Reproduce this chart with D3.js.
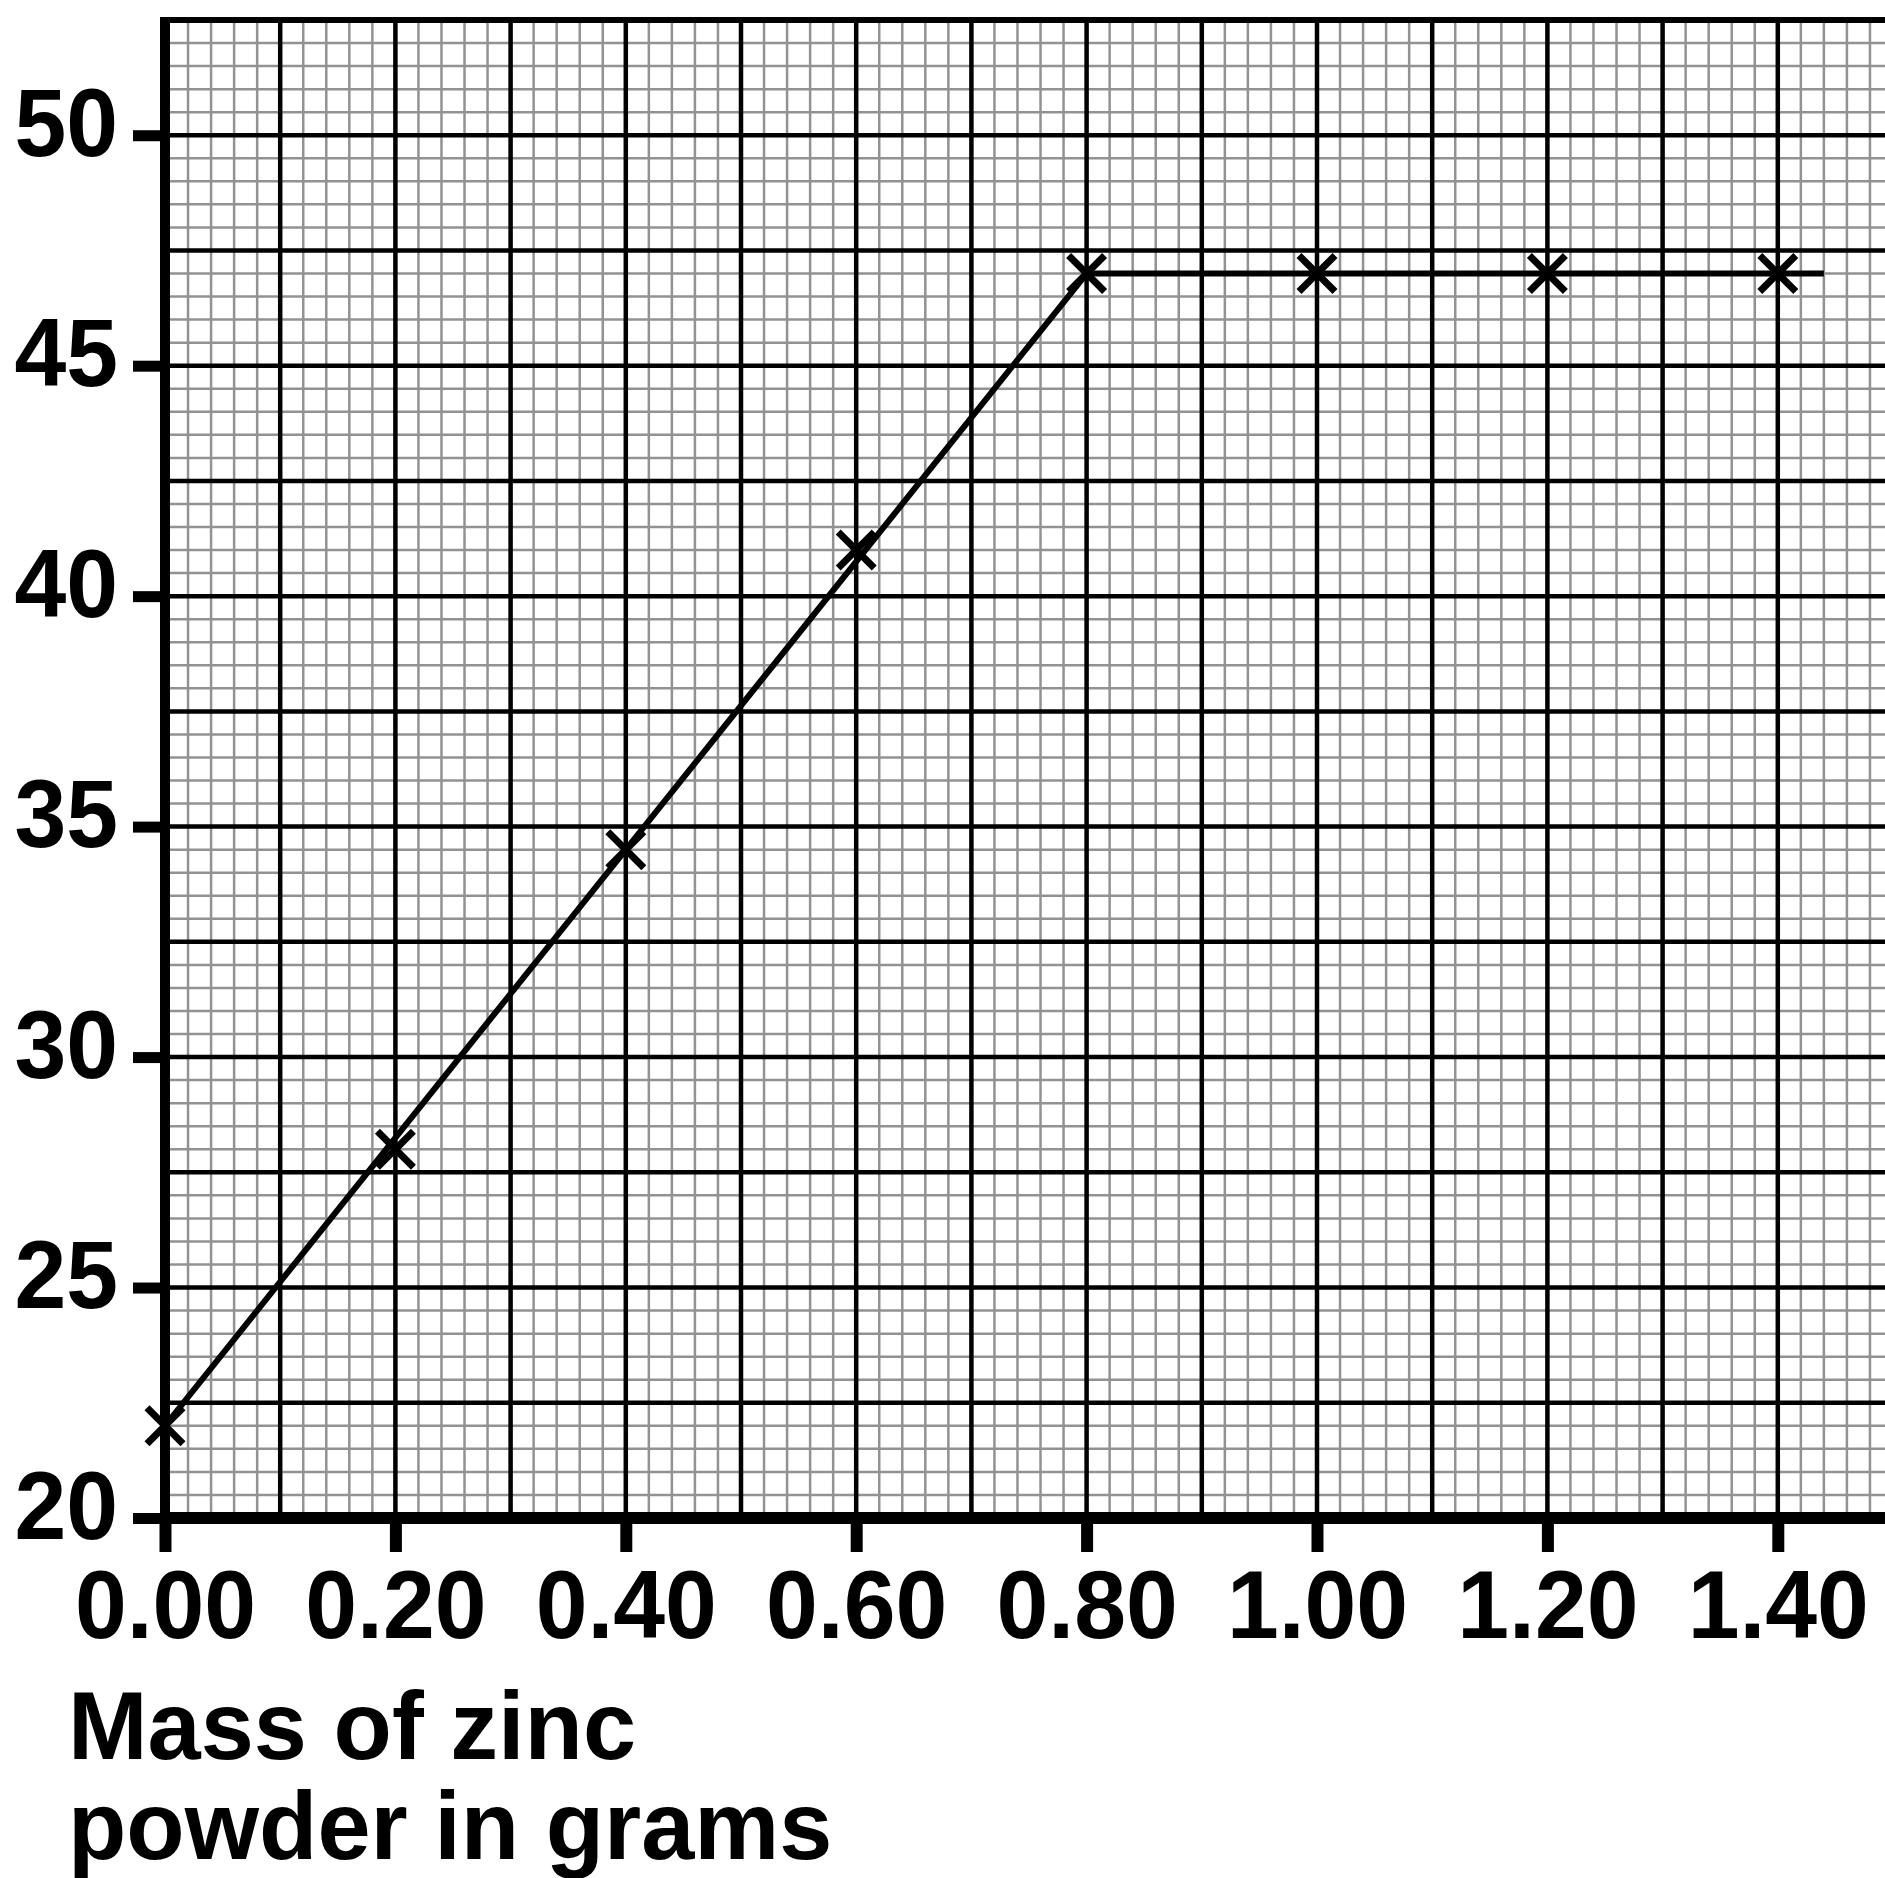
<!DOCTYPE html>
<html>
<head>
<meta charset="utf-8">
<script src="https://cdn.jsdelivr.net/npm/d3@7"></script>
<style>
  html, body { margin: 0; padding: 0; background: #fff; }
  svg { display: block; }
</style>
</head>
<body>
<svg id="chart" width="1885" height="1878"></svg>
<script>
// ---- data ----
const massValues = [0.0, 0.2, 0.4, 0.6, 0.8, 1.0, 1.2, 1.4];
const readingValues = [22, 28, 34.5, 41, 47, 47, 47, 47];
// best-fit lines drawn through the points
const fitRiseX = [0.0, 0.8];
const fitRiseY = [22, 47];
const fitFlatX = [0.8, 1.44];
const fitFlatY = [47, 47];
const xTickValues = [0.0, 0.2, 0.4, 0.6, 0.8, 1.0, 1.2, 1.4];
const xTickLabels = ["0.00", "0.20", "0.40", "0.60", "0.80", "1.00", "1.20", "1.40"];
const yTickValues = [20, 25, 30, 35, 40, 45, 50];
const yTickLabels = ["20", "25", "30", "35", "40", "45", "50"];
const xTitleLines = ["Mass of zinc", "powder in grams"];

// ---- layout ----
const svg = d3.select("#chart");
const x = d3.scaleLinear().domain([0, 1.5]).range([165, 1893]);
const y = d3.scaleLinear().domain([20, 52.5]).range([1518, 20]);
const FONT = "'Liberation Sans', Arial, Helvetica, sans-serif";
const FS = 97;
const SX = 0.96;

// grid
const minorX = d3.range(0, 75 + 1).map(i => i * 0.02);
const minorY = d3.range(0, 65 + 1).map(i => 20 + i * 0.5);
const majorX = d3.range(0, 15 + 1).map(i => i * 0.1);
const majorY = d3.range(0, 13 + 1).map(i => 20 + i * 2.5);

const grid = svg.append("g");
grid.selectAll("line.mx").data(minorX).join("line")
  .attr("x1", d => x(d)).attr("x2", d => x(d))
  .attr("y1", y(52.5)).attr("y2", y(20))
  .attr("stroke", "#929292").attr("stroke-width", 2.5);
grid.selectAll("line.my").data(minorY).join("line")
  .attr("x1", x(0)).attr("x2", 1885)
  .attr("y1", d => y(d)).attr("y2", d => y(d))
  .attr("stroke", "#929292").attr("stroke-width", 2.5);
grid.selectAll("line.Mx").data(majorX).join("line")
  .attr("x1", d => x(d)).attr("x2", d => x(d))
  .attr("y1", y(52.5)).attr("y2", y(20))
  .attr("stroke", "#000").attr("stroke-width", 4.5);
grid.selectAll("line.My").data(majorY).join("line")
  .attr("x1", x(0)).attr("x2", 1885)
  .attr("y1", d => y(d)).attr("y2", d => y(d))
  .attr("stroke", "#000").attr("stroke-width", 4.5);
// top border
grid.append("line")
  .attr("x1", x(0) - 4).attr("x2", 1885)
  .attr("y1", y(52.5)).attr("y2", y(52.5))
  .attr("stroke", "#000").attr("stroke-width", 6);

// axes
const xAxis = d3.axisBottom(x).tickValues(xTickValues)
  .tickFormat((d, i) => xTickLabels[i]).tickSize(34).tickSizeOuter(0);
const gx = svg.append("g").attr("transform", `translate(0,${y(20)})`).call(xAxis);
gx.select(".domain").attr("d", `M${x(0) - 5},0H1885`).attr("stroke", "#000").attr("stroke-width", 12);
gx.selectAll(".tick line").attr("stroke", "#000").attr("stroke-width", 12);
gx.selectAll(".tick text")
  .attr("y", 120).attr("dy", null)
  .attr("transform", `scale(${SX},1)`)
  .attr("fill", "#000")
  .style("font-family", FONT).style("font-weight", "bold").style("font-size", FS + "px");

const yAxis = d3.axisLeft(y).tickValues(yTickValues)
  .tickFormat((d, i) => yTickLabels[i]).tickSize(32).tickSizeOuter(0);
const gy = svg.append("g").attr("transform", `translate(${x(0)},0)`).call(yAxis);
gy.select(".domain").attr("d", `M0,${y(52.5) - 3}V${y(20)}`).attr("stroke", "#000").attr("stroke-width", 10);
gy.selectAll(".tick line").attr("stroke", "#000").attr("stroke-width", 11);
gy.selectAll(".tick text")
  .attr("x", -47 / SX).attr("y", 20).attr("dy", null)
  .attr("transform", `scale(${SX},1)`)
  .attr("fill", "#000")
  .style("font-family", FONT).style("font-weight", "bold").style("font-size", FS + "px");
svg.selectAll(".domain").attr("fill", "none");

// fitted lines
const line = d3.line().x(d => x(d[0])).y(d => y(d[1]));
svg.append("path").datum(d3.zip(fitRiseX, fitRiseY)).attr("d", line)
  .attr("fill", "none").attr("stroke", "#000").attr("stroke-width", 6);
svg.append("path").datum(d3.zip(fitFlatX, fitFlatY)).attr("d", line)
  .attr("fill", "none").attr("stroke", "#000").attr("stroke-width", 6);

// crosses
const pts = d3.zip(massValues, readingValues);
const arm = 18;
svg.append("g").selectAll("path").data(pts).join("path")
  .attr("d", d => {
    const cx = x(d[0]), cy = y(d[1]);
    return `M${cx - arm},${cy - arm}L${cx + arm},${cy + arm}M${cx - arm},${cy + arm}L${cx + arm},${cy - arm}`;
  })
  .attr("stroke", "#000").attr("stroke-width", 7).attr("fill", "none");

// axis title
svg.append("g").selectAll("text").data(xTitleLines).join("text")
  .attr("transform", (d, i) => `translate(68,${1759 + i * 100}) scale(0.985,1)`)
  .attr("fill", "#000")
  .style("font-family", FONT).style("font-weight", "bold").style("font-size", FS + "px")
  .text(d => d);
</script>
</body>
</html>
